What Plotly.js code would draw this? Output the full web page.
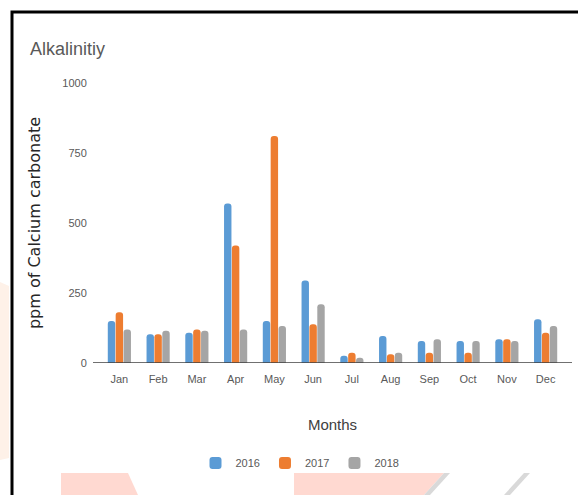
<!DOCTYPE html>
<html>
<head>
<meta charset="utf-8">
<script src="https://cdn.plot.ly/plotly-3.0.1.min.js"></script>
<style>
  html, body { margin: 0; padding: 0; background: #ffffff; }
  #chart { width: 578px; height: 495px; }
</style>
</head>
<body>
<div id="chart"></div>
<script>
// Monthly alkalinity readings (ppm of calcium carbonate)
const months = ["Jan", "Feb", "Mar", "Apr", "May", "Jun", "Jul", "Aug", "Sep", "Oct", "Nov", "Dec"];
const years = ["2016", "2017", "2018"];
const values2016 = [150, 103, 108, 570, 150, 295, 26, 96, 79, 79, 85, 156];
const values2017 = [181, 103, 120, 420, 811, 138, 37, 31, 37, 37, 85, 108];
const values2018 = [120, 115, 115, 120, 132, 210, 19, 37, 85, 79, 79, 132];
const yTicks = [0, 250, 500, 750, 1000];

const colors = ["#5B9BD5", "#ED7D31", "#A5A5A5"];
const narrow = "Liberation Sans Narrow, Liberation Sans, Arial, sans-serif";

// plot-area geometry in pixels, used to place paper-referenced decorations
const W = 578, H = 495, L = 100, R = 13, T = 83, B = 132;
const pw = W - L - R, ph = H - T - B;
const px = x => (x - L) / pw;
const py = y => (H - B - y) / ph;

function poly(pts, fill) {
  const d = pts.map((p, i) => (i ? "L" : "M") + px(p[0]).toFixed(4) + "," + py(p[1]).toFixed(4)).join(" ") + " Z";
  return { type: "path", xref: "paper", yref: "paper", path: d, fillcolor: fill, line: { width: 0 }, layer: "below" };
}

const series = [values2016, values2017, values2018];
const traces = series.map((vals, i) => ({
  type: "bar",
  name: years[i],
  x: months,
  y: vals,
  marker: { color: colors[i], cornerradius: 3 },
  hoverinfo: "x+y+name"
}));

const shapes = [
  // frame around the chart (top and left edges)
  { type: "path", xref: "paper", yref: "paper",
    path: "M" + px(12) + "," + py(H) + " L" + px(12) + "," + py(12) + " L" + px(W) + "," + py(12),
    line: { color: "#000000", width: 3 }, layer: "above" },
  // baseline under the bars, running a little past the category band
  { type: "line", xref: "paper", yref: "y",
    x0: px(93), x1: px(572), y0: 0, y1: 0,
    line: { color: "#404040", width: 1.5 }, layer: "above" },
  // faint background tints
  poly([[0, 282], [9, 286], [9, 458], [0, 460]], "#FEF1E8"),
  poly([[61, 473], [128, 473], [138, 495], [61, 495]], "#FFD9D1"),
  poly([[294, 473], [444, 473], [424, 495], [294, 495]], "#FFD9D1"),
  poly([[444, 473], [450, 473], [430, 495], [424, 495]], "#D9D9D9"),
  poly([[524, 473], [530, 473], [510, 495], [504, 495]], "#D9D9D9")
];

const layout = {
  width: W,
  height: H,
  margin: { l: L, r: R, t: T, b: B },
  paper_bgcolor: "#ffffff",
  plot_bgcolor: "#ffffff",
  font: { family: narrow, color: "#595959", size: 11 },
  title: {
    text: "Alkalinitiy",
    xref: "container", yref: "container",
    x: 30 / W, xanchor: "left",
    y: 1 - 49 / H, yanchor: "middle",
    font: { family: narrow, size: 18, color: "#595959" }
  },
  barmode: "group",
  bargap: 0.39,
  bargroupgap: 0.06,
  xaxis: {
    type: "category",
    showgrid: false,
    zeroline: false,
    showline: false,
    ticks: "outside",
    ticklen: 6,
    tickcolor: "rgba(0,0,0,0)",
    tickfont: { family: narrow, size: 11, color: "#595959" },
    title: {
      text: "Months",
      standoff: 35,
      font: { family: narrow, size: 15, color: "#404040" }
    },
    automargin: false
  },
  yaxis: {
    range: [0, 1000],
    tickvals: yTicks,
    ticktext: yTicks.map(String),
    showgrid: false,
    zeroline: false,
    showline: false,
    ticks: "outside",
    ticklen: 10,
    tickcolor: "rgba(0,0,0,0)",
    tickfont: { family: narrow, size: 11, color: "#595959" },
    title: {
      text: "ppm of Calcium carbonate",
      standoff: 17,
      font: { family: "DejaVu Sans, Verdana, sans-serif", size: 16, color: "#262626" }
    },
    automargin: false
  },
  showlegend: true,
  legend: {
    orientation: "h",
    x: px(300), xanchor: "center",
    y: py(463), yanchor: "middle",
    font: { family: narrow, size: 11, color: "#595959" },
    bgcolor: "rgba(0,0,0,0)"
  },
  shapes: shapes
};

Plotly.newPlot("chart", traces, layout, { displayModeBar: false, staticPlot: true });
</script>
</body>
</html>
